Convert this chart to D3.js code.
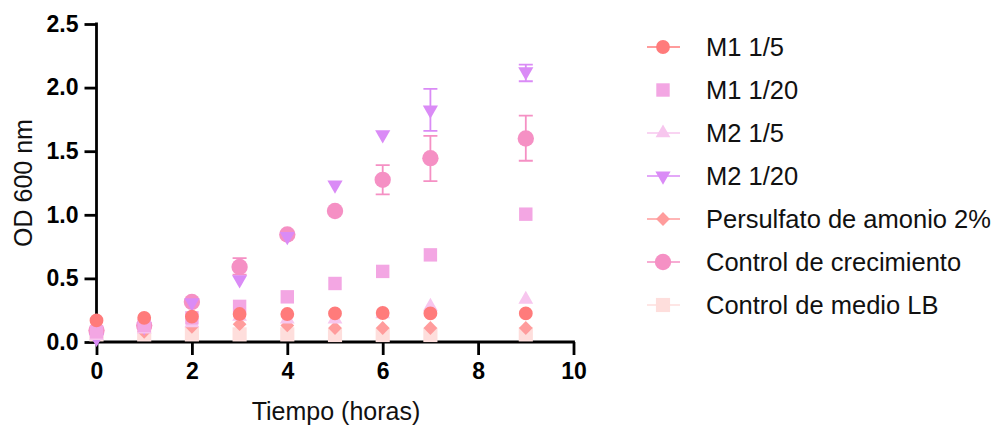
<!DOCTYPE html>
<html><head><meta charset="utf-8">
<script src="https://cdn.jsdelivr.net/npm/d3@7"></script>
<style>body{margin:0;background:#fff}svg{display:block}</style>
</head><body>
<svg id="c" width="997" height="426"></svg>
<script>
const times = [0,1,2,3,4,5,6,7,9];
const seriesNames = ["M1 1/5","M1 1/20","M2 1/5","M2 1/20","Persulfato de amonio 2%","Control de crecimiento","Control de medio LB"];
const seriesColors = ["#FF7B7B","#F3A6E3","#F7C6EE","#DA8BF6","#FF9C9C","#F590C4","#FEDEDC"];
const seriesSymbols = ["circle","square","triangle","triangleDown","diamond","circle","square"];
const m1_5   = [0.17,0.19,0.20,0.22,0.22,0.225,0.228,0.225,0.225];
const m1_20  = [0.08,0.13,0.19,0.28,0.355,0.46,0.555,0.685,1.005];
const m2_5   = [0.05,0.10,0.15,0.20,0.18,0.18,0.22,0.28,0.335];
const m2_20  = [0.03,0.12,0.31,0.49,0.83,1.235,1.63,1.825,2.125];
const persul = [0.05,0.08,0.12,0.14,0.13,0.11,0.11,0.11,0.11];
const ctrlC  = [0.09,0.13,0.315,0.59,0.845,1.03,1.275,1.445,1.60];
const ctrlLB = [0.06,0.06,0.06,0.06,0.06,0.055,0.055,0.055,0.06];
// error bars (low, high) where visible
const m2_20Err = [null,null,null,null,null,null,null,[1.66,1.99],[2.05,2.18]];
const ctrlCErr = [null,null,null,[0.53,0.66],null,null,[1.16,1.39],[1.265,1.62],[1.425,1.78]];
const xTicks = [0,2,4,6,8,10];
const yTicks = [0,0.5,1.0,1.5,2.0,2.5];

const allValues = [m1_5,m1_20,m2_5,m2_20,persul,ctrlC,ctrlLB];
const allErr = [null,null,null,m2_20Err,null,ctrlCErr,null];
const sizes = [150,180,95,100,95,210,200];

const FONT = "Liberation Sans, Arial, sans-serif";
const svg = d3.select("#c");
const x = d3.scaleLinear().domain([0,10]).range([96.5,573.5]);
const y = d3.scaleLinear().domain([0,2.5]).range([342,24]);

const symMap = {circle:d3.symbolCircle, square:d3.symbolSquare, triangle:d3.symbolTriangle, triangleDown:d3.symbolTriangle, diamond:d3.symbolSquare};
function sym(type,size){ return d3.symbol().type(symMap[type]).size(size)(); }
function rot(type){ return type==="triangleDown" ? " rotate(180)" : (type==="diamond" ? " rotate(45)" : ""); }

// axes
const xAxis = svg.append("g").attr("transform","translate(0,342)")
  .call(d3.axisBottom(x).tickValues(xTicks).tickFormat(d3.format("d")).tickSizeOuter(0).tickSize(13).tickPadding(8));
const yAxis = svg.append("g").attr("transform","translate(96.5,0)")
  .call(d3.axisLeft(y).tickValues(yTicks).tickFormat(d3.format(".1f")).tickSizeOuter(0).tickSize(12).tickPadding(6));
[xAxis,yAxis].forEach(a=>{
  a.selectAll("path,line").attr("stroke","#000").attr("stroke-width",2.8);
  a.selectAll("text").attr("fill","#000").style("font-family",FONT).style("font-weight","bold").style("font-size","23px");
});
yAxis.select(".domain").attr("d","M0,343.4V22.6");
xAxis.select(".domain").attr("d","M95.1,0H574.9");

svg.append("text").attr("x",336).attr("y",420).attr("text-anchor","middle")
  .style("font-family",FONT).style("font-size","25px").attr("fill","#111").text("Tiempo (horas)");
svg.append("text").attr("transform","translate(32,183) rotate(-90)").attr("text-anchor","middle")
  .style("font-family",FONT).style("font-size","25px").attr("fill","#111").text("OD 600 nm");

// draw series: last in list at bottom
const plot = svg.append("g");
for (let s = seriesNames.length-1; s>=0; s--) {
  const g = plot.append("g");
  const err = allErr[s];
  if (err) {
    times.forEach((t,i)=>{
      const e = err[i]; if(!e) return;
      const cx = x(t);
      g.append("path").attr("d",`M${cx},${y(e[0])}V${y(e[1])}M${cx-7},${y(e[0])}H${cx+7}M${cx-7},${y(e[1])}H${cx+7}`)
        .attr("stroke",seriesColors[s]).attr("stroke-width",1.8).attr("fill","none");
    });
  }
  g.selectAll("path.pt").data(times.map((t,i)=>[t,allValues[s][i]])).join("path").attr("class","pt")
    .attr("d",sym(seriesSymbols[s],sizes[s]))
    .attr("transform",d=>`translate(${x(d[0])},${y(d[1])})${rot(seriesSymbols[s])}`)
    .attr("fill",seriesColors[s]);
}

// legend
const leg = svg.append("g");
seriesNames.forEach((n,i)=>{
  const cy = 47 + i*43;
  if (i!==1) leg.append("line").attr("x1",647).attr("x2",680).attr("y1",cy).attr("y2",cy).attr("stroke",seriesColors[i]).attr("stroke-width",1.6);
  leg.append("path").attr("d",sym(seriesSymbols[i],sizes[i])).attr("transform",`translate(663,${cy})${rot(seriesSymbols[i])}`).attr("fill",seriesColors[i]);
  leg.append("text").attr("x",706).attr("y",cy+9).style("font-family",FONT).style("font-size","25.5px").attr("fill","#111").text(n);
});
</script>
</body></html>
